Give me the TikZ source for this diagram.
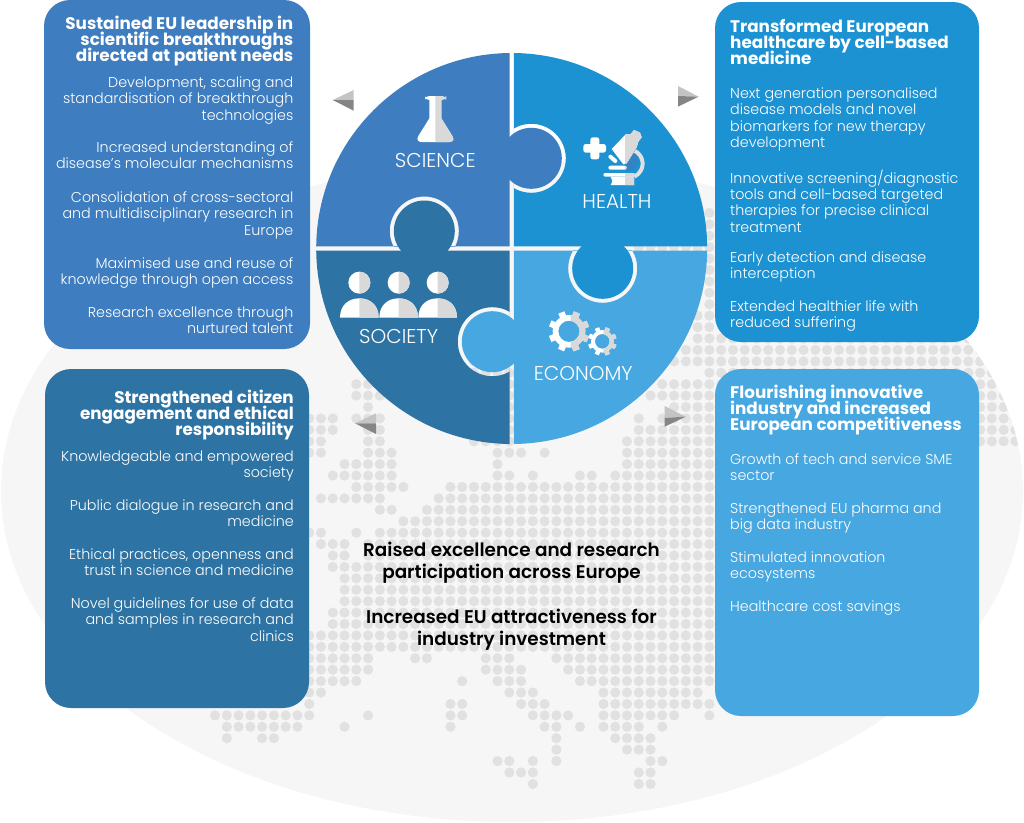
\documentclass[tikz,border=0pt]{standalone}
\usepackage{fontspec}
\setmainfont{Poppins}
\newfontfamily\lightf{Poppins Light}
\newfontfamily\semif{Poppins SemiBold}
\newfontfamily\boldf{Poppins Bold}
\definecolor{sci}{HTML}{3D7DC0}
\definecolor{hea}{HTML}{1C92D2}
\definecolor{soc}{HTML}{2D74A4}
\definecolor{eco}{HTML}{47A7E0}
\definecolor{dotc}{HTML}{E1E1E1}
\definecolor{icongray}{HTML}{D9D9D9}
\definecolor{arrl}{HTML}{C4C4C4}
\definecolor{arrd}{HTML}{858585}
\pgfdeclareradialshading{rimshade}{\pgfpoint{0bp}{0bp}}{rgb(0bp)=(.965,.965,.965); rgb(45bp)=(.965,.965,.965); rgb(50bp)=(.88,.88,.88); rgb(100bp)=(.88,.88,.88)}
\newcommand\tightl{\lineskiplimit=-20pt\relax}
\tikzset{
  card/.style={rounded corners=26pt},
  bodytext/.style={inner sep=0pt,yshift=0.4pt,text=white,font=\lightf\fontsize{14.3}{16.35}\selectfont\tightl},
  headtext/.style={inner sep=0pt,yshift=2pt,text=white,font=\boldf\fontsize{16.8}{16}\selectfont\tightl},
  centertext/.style={inner sep=0pt,yshift=1pt,text=black,align=center,anchor=north,font=\semif\fontsize{18.4}{22}\selectfont\tightl},
  rightcol/.style={anchor=north east,align=right},
  leftcol/.style={anchor=north west,align=left},
  quadlabel/.style={inner sep=0pt,text=white,font=\lightf\fontsize{20}{20}\selectfont},
}
\newcommand\fl{\rule{0pt}{10pt}}
\newcommand\dotrow[2]{\foreach \ra/\rb in {#2}{\foreach \ci in {\ra,...,\rb}{\fill[dotc] ({509.3+11.77*\ci},{452.7+11.42*(#1)}) circle (5.1);}}}
\newcommand\twotone[2]{\fill[white] #2; \begin{scope}\clip (#1,0) rectangle (1300,1300); \fill[icongray] #2; \end{scope}}
\newcommand\gearshape[6]{% cx cy R Rb r colour
  \fill[#6,even odd rule] (#1,#2) circle (#4) (#1,#2) circle (#5);
  \foreach \ga in {0,45,...,315}{\fill[#6,rotate around={\ga+22:(#1,#2)}] ({#1-0.16*#3},{#2-#4+2}) rectangle ({#1+0.16*#3},{#2-#3});}}
\newcommand\twogear[6]{\gearshape{#1}{#2}{#3}{#4}{#5}{white}\begin{scope}\clip (#6,0) rectangle (1300,1300);\gearshape{#1}{#2}{#3}{#4}{#5}{icongray}\end{scope}}
\begin{document}
\begin{tikzpicture}[x=1pt,y=-1pt]
\useasboundingbox (0,0) rectangle (1024,822);
% background ellipse
\path[shading=rimshade] (512,491) ellipse [x radius=511,y radius=331];
\begin{scope}
\clip (512,491) ellipse [x radius=511,y radius=331];
\dotrow{-21}{17/17}\dotrow{-20}{17/17}\dotrow{-19}{17/17}\dotrow{-18}{11/17}
\dotrow{-17}{17/17}\dotrow{-16}{17/17}\dotrow{-15}{17/17}\dotrow{-14}{17/17}
\dotrow{-13}{17/17}\dotrow{-12}{16/17}\dotrow{-11}{16/17}
\dotrow{-10}{16/45}\dotrow{-9}{15/45,-3/0}\dotrow{-8}{14/45,-3/0}\dotrow{-7}{17/45,-3/0}
\dotrow{-6}{-13/-12,13/45,-3/0}\dotrow{-5}{-13/-11,12/45,-3/0}\dotrow{-4}{-12/-12,14/45,-3/0}
\dotrow{-3}{-17/-15,-13/-11,11/11,13/45,-3/0}\dotrow{-2}{-17/-15,-12/-11,11/45,-3/0}
\dotrow{-1}{-17/-16,-12/-11,-3/0,10/45}
\dotrow{0}{-17/-16,-12/-10,-1/1,3/3,10/18}
\dotrow{1}{-14/-10,-1/-1,10/18}
\dotrow{2}{-15/-10,-1/0,2/2,6/7,9/18}
\dotrow{3}{-13/-9,-5/18}
\dotrow{4}{-16/-11,-6/18}
\dotrow{5}{-11/-10,-7/18}
\dotrow{6}{-9/18}
\dotrow{7}{-17/-16,-13/-13,-11/18}
\dotrow{8}{-16/-14,-12/18}
\dotrow{9}{-15/-14,-12/18}
\dotrow{10}{-15/-14,-13/18}
\dotrow{11}{-14/18}\dotrow{12}{-14/18}\dotrow{13}{-14/18}
\dotrow{14}{-15/18}\dotrow{15}{-15/18}
\dotrow{16}{-17/18}\dotrow{17}{-17/18}
\dotrow{18}{-17/-12,-8/-7,-2/0,4/18}
\dotrow{19}{-17/-12,-2/1,5/18}
\dotrow{20}{-17/-13,-4/-4,-1/1,6/18}
\dotrow{21}{-17/-16,0/2,8/16}
\dotrow{22}{-17/-17,-5/-4,1/3,8/17}
\dotrow{23}{-25/-17,-12/-12,-5/-4,2/5,8/14,17/17}
\dotrow{24}{-24/-18,-14/-14,-5/-5,3/4,6/6,8/11,13/13}
\dotrow{25}{-24/-24,-21/-20,4/4,9/12}
\dotrow{26}{4/4,10/12}
\dotrow{27}{-1/0,2/2,4/4,12/13}
\dotrow{28}{0/2,11/12}
\dotrow{29}{2/2,11/12}
\end{scope}
% cards
\fill[sci,card] (44,0) rectangle (310,349);
\fill[hea,card] (715,2) rectangle (979,342);
\fill[soc,card] (45,369) rectangle (309,708);
\fill[eco,card] (715,369) rectangle (979,716);
% puzzle quadrants
\begin{scope}
\clip (511.7,248.5) circle (195.5);
\begin{scope}\clip (316,53) rectangle (509.6,246.4);
\fill[sci,even odd rule] (316,53) rectangle (509.6,246.4) (424.3,231) circle (34.5);\end{scope}
\begin{scope}\clip (513.8,53) rectangle (707.5,246.4);
\fill[hea,even odd rule] (513.8,53) rectangle (707.5,246.4) (531.3,158.3) circle (34.5);\end{scope}
\begin{scope}\clip (316,250.6) rectangle (509.6,444.5);
\fill[soc,even odd rule] (316,250.6) rectangle (509.6,444.5) (492.3,341.7) circle (34.5);\end{scope}
\begin{scope}\clip (513.8,250.6) rectangle (707.5,444.5);
\fill[eco,even odd rule] (513.8,250.6) rectangle (707.5,444.5) (602.7,268.3) circle (34.5);\end{scope}
\end{scope}
\fill[sci] (531.3,158.3) circle (30.5);
\fill[soc] (424.3,231) circle (30.5);
\fill[hea] (602.7,268.3) circle (30.5);
\fill[eco] (492.3,341.7) circle (30.5);
% icons in 3x coordinates
\begin{scope}[shift={(310,50)},x=0.33333pt,y=-0.33333pt]
% flask
\twotone{376}{(358,150) -- (358,205) -- (325,258) .. controls (318,270) and (325,276) .. (335,276) -- (418,276) .. controls (428,276) and (434,270) .. (427,258) -- (394,205) -- (394,150) -- cycle}
\twotone{376}{[rounded corners=4pt] (345,138) rectangle (408,150)}
% plus
\fill[white,rounded corners=2.5pt] (841,262) rectangle (868,328);
\fill[white,rounded corners=2.5pt] (820,282) rectangle (888,308);
% microscope
\fill[sci!70!hea] (945,342) -- (972,305) .. controls (990,325) and (988,345) .. (970,360) -- (945,360) -- cycle;
\draw[white!88!black,line width=4pt] (975,303) arc [start angle=-62,end angle=65,radius=43];
\twotone{945}{(905,297) -- (948,252) -- (962,252) -- (972,240) -- (990,248) -- (995,262) -- (985,275) -- (980,292) -- (950,340) -- (940,343) -- cycle}
\draw[white,line width=4pt,line cap=round] (901,320) -- (916,333);
\twotone{945}{[rounded corners=2pt] (895,347) rectangle (950,359)}
\twotone{945}{[rounded corners=2pt] (880,369) rectangle (975,380)}
\twotone{945}{(902,380) -- (972,380) -- (972,405) -- (902,405) .. controls (908,395) and (908,388) .. (902,380) -- cycle}
% people
\foreach \pc in {148,266,383}{
  \twotone{\pc}{(\pc,698) circle [radius=33]}
  \twotone{\pc}{({\pc-58},803) .. controls ({\pc-58},765) and ({\pc-32},745) .. (\pc,745) .. controls ({\pc+32},745) and ({\pc+58},765) .. ({\pc+58},803) -- cycle}
}
% gears
\twogear{777}{844}{61}{49}{32}{782}
\twogear{877}{874}{43}{34}{22}{880}
% arrows
\fill[arrl] (68,150) -- (131,120) -- (131,150) -- cycle;
\fill[arrd] (68,150) -- (131,150) -- (131,182) -- cycle;
\fill[arrl] (1166,140) -- (1104,108) -- (1104,138) -- cycle;
\fill[arrd] (1166,140) -- (1104,138) -- (1104,170) -- cycle;
\fill[arrl] (135,1120) -- (198,1090) -- (198,1120) -- cycle;
\fill[arrd] (135,1120) -- (198,1120) -- (198,1152) -- cycle;
\fill[arrl] (1127,1100) -- (1064,1068) -- (1064,1104) -- cycle;
\fill[arrd] (1127,1100) -- (1064,1104) -- (1064,1130) -- cycle;
\end{scope}
% quadrant labels
\node[quadlabel] (lsci) at (435.3,160) {SCIENCE};
\node[quadlabel] (lhea) at (617,201) {HEALTH};
\node[quadlabel] (lsoc) at (398.7,336) {SOCIETY};
\node[quadlabel] (leco) at (583.3,373.3) {ECONOMY};
% science card
\node[headtext,rightcol] (t1) at (293.5,18) {\fl Sustained EU leadership in\\scientific breakthroughs\\directed at patient needs};
\node[bodytext,rightcol] (a1) at (293.5,77) {\fl Development, scaling and\\standardisation of breakthrough\\technologies};
\node[bodytext,rightcol] (a2) at (293.5,142) {\fl Increased understanding of\\disease’s molecular mechanisms};
\node[bodytext,rightcol] (a3) at (293.5,192) {\fl Consolidation of cross-sectoral\\and multidisciplinary research in\\Europe};
\node[bodytext,rightcol] (a4) at (293.5,258) {\fl Maximised use and reuse of\\knowledge through open access};
\node[bodytext,rightcol] (a5) at (293.5,307) {\fl Research excellence through\\nurtured talent};
% health card
\node[headtext,leftcol] (t2) at (730,21) {\fl Transformed European\\healthcare by cell-based\\medicine};
\node[bodytext,leftcol] (b1) at (730,88) {\fl Next generation personalised\\disease models and novel\\biomarkers for new therapy\\development};
\node[bodytext,leftcol] (b2) at (730,170) {\fl Innovative screening/diagnostic\\tools and cell-based targeted\\therapies for precise clinical\\treatment};
\node[bodytext,leftcol] (b3) at (730,252) {\fl Early detection and disease\\interception};
\node[bodytext,leftcol] (b4) at (730,301) {\fl Extended healthier life with\\reduced suffering};
% society card
\node[headtext,rightcol] (t3) at (294,392) {\fl Strengthened citizen\\engagement and ethical\\responsibility};
\node[bodytext,rightcol] (c1) at (294,451) {\fl Knowledgeable and empowered\\society};
\node[bodytext,rightcol] (c2) at (294,500) {\fl Public dialogue in research and\\medicine};
\node[bodytext,rightcol] (c3) at (294,549) {\fl Ethical practices, openness and\\trust in science and medicine};
\node[bodytext,rightcol] (c4) at (294,598) {\fl Novel guidelines for use of data\\and samples in research and\\clinics};
% economy card
\node[headtext,leftcol] (t4) at (730,387) {\fl Flourishing innovative\\industry and increased\\European competitiveness};
\node[bodytext,leftcol] (d1) at (730,454) {\fl Growth of tech and service SME\\sector};
\node[bodytext,leftcol] (d2) at (730,503) {\fl Strengthened EU pharma and\\big data industry};
\node[bodytext,leftcol] (d3) at (730,552) {\fl Stimulated innovation\\ecosystems};
\node[bodytext,leftcol] (d4) at (730,601) {\fl Healthcare cost savings};
% centre
\node[centertext] (m1) at (511.5,543) {\fl Raised excellence and research\\participation across Europe};
\node[centertext] (m2) at (511.5,610) {\fl Increased EU attractiveness for\\industry investment};
\end{tikzpicture}
\end{document}
